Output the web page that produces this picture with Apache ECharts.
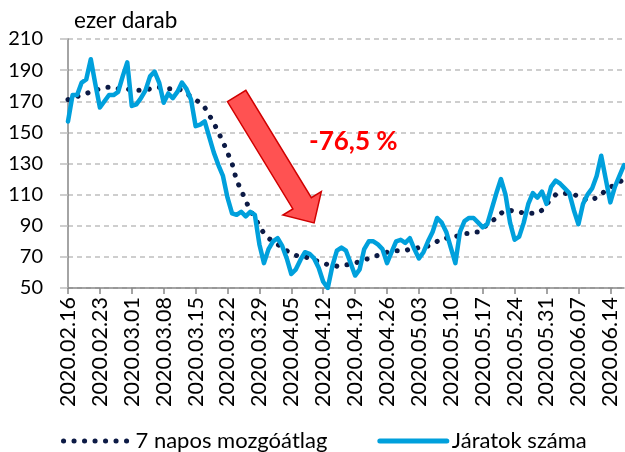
<!DOCTYPE html>
<html><head><meta charset="utf-8">
<script src="https://cdn.jsdelivr.net/npm/echarts@6/dist/echarts.min.js"></script>
<style>html,body{margin:0;padding:0;background:#fff}#c{width:625px;height:452px}</style>
</head><body><div id="c"></div>
<script>
// ---- data ----
const startDate = [2020, 2, 16];
const flights = [
 157,174,174,182,184,197,181,
 166,170,174,174,176,186,195,
 167,168,172,177,186,189,182,
 169,175,172,176,182,178,171,
 154,155,157,147,137,129,122,
 108,98,97,99,96,99,97,
 78,66,75,80,82,77,69,
 59,62,68,73,72,69,63,
 54,50,64,74,76,74,66,
 58,62,75,80,80,78,75,
 66,73,80,81,79,82,75,
 69,73,80,86,95,92,86,
 76,66,86,93,95,95,92,
 89,91,101,111,120,110,92,
 81,83,92,104,111,108,112,
 104,115,119,117,114,111,100,
 91,104,110,114,122,135,120,
 105,115,122,129
];
const movingAvg = [
 171,172,173,174,175,176,177,
 178,179,179,179,178,178,178,
 177,177,177,177,178,178,179,
 179,178,178,178,177,175,173,
 171,169,166,161,156,150,144,
 137,130,119,113,106,100,95,
 90,85,82,80,78,76,74,
 72,71,70,70,69,68,67,
 66,65,65,64,64,65,65,
 66,67,68,69,70,71,72,
 73,74,74,74,74,75,75,
 76,76,77,78,80,82,82,
 83,83,84,85,85,86,86,
 88,91,93,95,98,100,100,
 99,99,98,98,98,98,100,
 104,107,110,111,111,110,110,
 109,108,106,107,108,110,113,
 115,116,118,120
];
const seriesNames = ['7 napos mozgóátlag', 'Járatok száma'];
const unitLabel = 'ezer darab';
const changeLabel = '-76,5 %';
const yMin = 50, yMax = 210, yStep = 20;
// arrow annotation anchors (category index, value)
const arrowFrom = [36.8, 173.4];
const arrowTo = [54.1, 91.8];

// category labels (consecutive days)
function pad(n){return (n<10?'0':'')+n;}
const categories = [];
for (let i = 0; i < flights.length; i++) {
  const d = new Date(Date.UTC(startDate[0], startDate[1]-1, startDate[2] + i));
  categories.push(d.getUTCFullYear() + '.' + pad(d.getUTCMonth()+1) + '.' + pad(d.getUTCDate()));
}

const FONT = 'Lato';
const maStyle = {color: '#0c1a45', width: 5, type: [0.1, 10.4], cap: 'round'};
const lineStyleMain = {color: '#00a0dc', width: 4.5, join: 'round', cap: 'round'};

const chart = echarts.init(document.getElementById('c'), null, {renderer: 'canvas'});
chart.setOption({
  animation: false,
  backgroundColor: '#fff',
  grid: {left: 68, right: 1, top: 39, bottom: 164, containLabel: false},
  legend: {
    left: 56, top: 425, itemWidth: 67, itemHeight: 12, itemGap: 50,
    textStyle: {fontFamily: FONT, fontSize: 22, color: '#000'},
    itemStyle: {opacity: 0},
    data: [
      {name: seriesNames[0], lineStyle: maStyle, itemStyle: {opacity: 0}},
      {name: seriesNames[1], lineStyle: {color: '#00a0dc', width: 5, cap: 'round'}, itemStyle: {opacity: 0}}
    ]
  },
  xAxis: {
    type: 'category', data: categories, boundaryGap: false,
    axisLine: {lineStyle: {color: '#868686', width: 1.5}},
    axisTick: {show: true, interval: 6, length: 6, lineStyle: {color: '#868686', width: 1.5}},
    axisLabel: {interval: 6, rotate: 90, margin: 9, fontFamily: FONT, fontSize: 21.5, color: '#000'},
    splitLine: {show: false}
  },
  yAxis: {
    type: 'value', min: yMin, max: yMax, interval: yStep,
    axisLine: {show: true, lineStyle: {color: '#868686', width: 1.5}},
    axisTick: {show: true, inside: false, length: 8, lineStyle: {color: '#bfbfbf', width: 1.5}},
    axisLabel: {margin: 25, fontFamily: FONT, fontSize: 20, color: '#000'},
    splitLine: {show: true, lineStyle: {color: '#bfbfbf', width: 1.5, type: [5, 4]}}
  },
  series: [
    {
      name: seriesNames[0], type: 'line', data: movingAvg, symbol: 'none', showSymbol: false,
      itemStyle: {color: '#0c1a45'}, lineStyle: maStyle, z: 2
    },
    {
      name: seriesNames[1], type: 'line', data: flights, symbol: 'none', showSymbol: false,
      itemStyle: {color: '#00a0dc'}, lineStyle: lineStyleMain, z: 3
    }
  ]
});

// annotations
const S = chart.convertToPixel({gridIndex: 0}, arrowFrom);
const T = chart.convertToPixel({gridIndex: 0}, arrowTo);
const dx = T[0]-S[0], dy = T[1]-S[1], L = Math.hypot(dx, dy);
const u = [dx/L, dy/L], p = [u[1], -u[0]];
const headLen = 23, headHalf = 22.5, shaftHalf = 10.8;
const B = [T[0]-headLen*u[0], T[1]-headLen*u[1]];
const pt = (base, k) => [base[0]+k*p[0], base[1]+k*p[1]];
const arrowPts = [pt(S,-shaftHalf), pt(S,shaftHalf), pt(B,shaftHalf), pt(B,headHalf), T, pt(B,-headHalf), pt(B,-shaftHalf)];

chart.setOption({
  graphic: [
    {type: 'text', left: 74, top: 9, style: {text: unitLabel, font: '22.5px ' + FONT, fill: '#000'}},
    {type: 'polygon', shape: {points: arrowPts}, style: {fill: '#ff5252', stroke: '#d00000', lineWidth: 1.5}, z: 10},
    {type: 'text', left: 309, top: 129, style: {text: changeLabel, font: 'bold 26px ' + FONT, fill: '#ff0000'}, z: 10}
  ]
});
</script></body></html>
